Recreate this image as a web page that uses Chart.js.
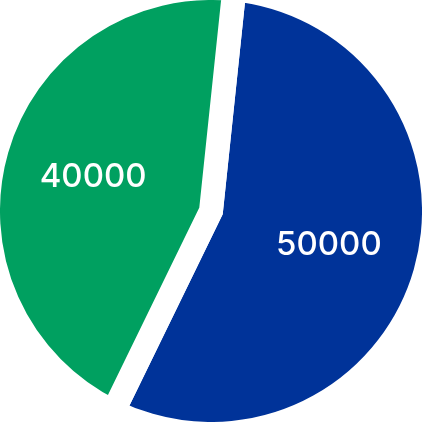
<!DOCTYPE html>
<html>
<head>
<meta charset="utf-8">
<script src="https://cdn.jsdelivr.net/npm/chart.js@4"></script>
<style>
  html, body { margin: 0; padding: 0; background: #fff; overflow: hidden; }
  #wrap { width: 422px; height: 422px; }
</style>
</head>
<body>
<div id="wrap"><canvas id="pieChart"></canvas></div>
<script>
const sliceLabels = ['A', 'B'];
const sliceValues = [50000, 40000];
const sliceColors = ['#003399', '#00a060'];

// white value text inside each slice, along its middle angle
const valueLabels = {
  id: 'valueLabels',
  afterDatasetsDraw(chart) {
    const ctx = chart.ctx;
    const meta = chart.getDatasetMeta(0);
    ctx.save();
    ctx.fillStyle = '#fff';
    ctx.font = '500 33px Inter';
    ctx.textAlign = 'center';
    ctx.textBaseline = 'middle';
    meta.data.forEach((arc, i) => {
      const { x, y, startAngle, endAngle, outerRadius } = arc.getProps(['x', 'y', 'startAngle', 'endAngle', 'outerRadius']);
      const mid = (startAngle + endAngle) / 2;
      const r = outerRadius * 0.55;
      ctx.fillText(String(sliceValues[i]), x + Math.cos(mid) * r, y + Math.sin(mid) * r);
    });
    ctx.restore();
  }
};

new Chart(document.getElementById('pieChart'), {
  type: 'pie',
  data: {
    labels: sliceLabels,
    datasets: [{
      data: sliceValues,
      backgroundColor: sliceColors,
      borderColor: '#fff',
      borderWidth: 24,
      borderJoinStyle: 'miter',
      hoverOffset: 0
    }]
  },
  options: {
    responsive: true,
    maintainAspectRatio: false,
    animation: false,
    rotation: 6,
    radius: 223,
    plugins: {
      legend: { display: false },
      tooltip: { enabled: false }
    }
  },
  plugins: [valueLabels]
});
</script>
</body>
</html>
